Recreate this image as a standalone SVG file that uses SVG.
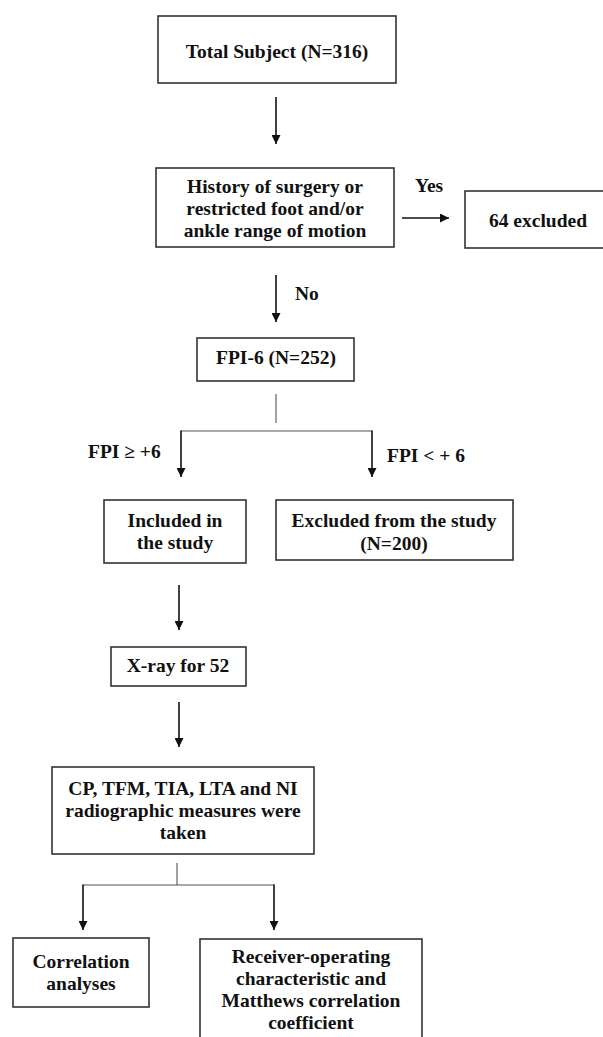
<svg xmlns="http://www.w3.org/2000/svg" width="603" height="1037" viewBox="0 0 603 1037">
<style>
.box{fill:#fff;stroke:#333;stroke-width:1.6}
.t{font-family:"Liberation Serif","Times New Roman",serif;font-weight:bold;font-size:19.5px;fill:#111;text-anchor:middle}
.l{font-family:"Liberation Serif","Times New Roman",serif;font-weight:bold;font-size:19.5px;fill:#111}
.ar{stroke:#111;stroke-width:1.6;fill:none;marker-end:url(#ah)}
.thin{stroke:#555;stroke-width:1.1;fill:none}
</style>
<defs>
<marker id="ah" markerUnits="userSpaceOnUse" markerWidth="9" markerHeight="9" refX="9" refY="4.5" orient="auto">
<path d="M0,0 L9,4.5 L0,9 z" fill="#111"/>
</marker>
</defs>
<rect width="603" height="1037" fill="#fff"/>
<g id="connectors">
<line class="ar" x1="276" y1="97" x2="276" y2="144"/>
<line class="ar" x1="402" y1="218" x2="449" y2="218"/>
<line class="ar" x1="276" y1="275" x2="276" y2="322"/>
<line class="thin" x1="276" y1="394" x2="276" y2="423"/>
<line class="thin" x1="181" y1="431" x2="372" y2="431"/>
<line class="ar" x1="181" y1="430.5" x2="181" y2="477"/>
<line class="ar" x1="372" y1="430.5" x2="372" y2="477"/>
<line class="ar" x1="179" y1="585" x2="179" y2="630"/>
<line class="ar" x1="179" y1="702" x2="179" y2="747"/>
<line class="thin" x1="177" y1="863" x2="177" y2="885"/>
<line class="thin" x1="83" y1="885" x2="274" y2="885"/>
<line class="ar" x1="83" y1="884.5" x2="83" y2="930"/>
<line class="ar" x1="274" y1="884.5" x2="274" y2="930"/>
<text class="l" x="415" y="192">Yes</text>
<text class="l" x="295" y="300">No</text>
<text class="l" x="88" y="458">FPI ≥ +6</text>
<text class="l" x="387" y="462">FPI &lt; + 6</text>
</g>
<g id="total">
<rect class="box" x="158" y="16" width="238" height="67"/>
<text class="t" x="277" y="58">Total Subject (N=316)</text>
</g>
<g id="history">
<rect class="box" x="156" y="168" width="238" height="79"/>
<text class="t" x="275" y="193">History of surgery or</text>
<text class="t" x="275" y="215">restricted foot and/or</text>
<text class="t" x="275" y="237">ankle range of motion</text>
</g>
<g id="excluded64">
<rect class="box" x="465" y="191" width="150" height="57"/>
<text class="t" x="538" y="227">64 excluded</text>
</g>
<g id="fpi">
<rect class="box" x="197" y="338" width="157" height="43"/>
<text class="t" x="276" y="364">FPI-6 (N=252)</text>
</g>
<g id="included">
<rect class="box" x="104" y="500" width="142" height="63"/>
<text class="t" x="175" y="527">Included in</text>
<text class="t" x="175" y="549">the study</text>
</g>
<g id="excluded200">
<rect class="box" x="276" y="500" width="237" height="60"/>
<text class="t" x="394" y="527">Excluded from the study</text>
<text class="t" x="394" y="550">(N=200)</text>
</g>
<g id="xray">
<rect class="box" x="111" y="647" width="135" height="39"/>
<text class="t" x="178" y="672">X-ray for 52</text>
</g>
<g id="measures">
<rect class="box" x="52" y="767" width="262" height="87"/>
<text class="t" x="183" y="795">CP, TFM, TIA, LTA and NI</text>
<text class="t" x="183" y="817">radiographic measures were</text>
<text class="t" x="183" y="839">taken</text>
</g>
<g id="correlation">
<rect class="box" x="13" y="938" width="136" height="69"/>
<text class="t" x="81" y="968">Correlation</text>
<text class="t" x="81" y="990">analyses</text>
</g>
<g id="roc">
<rect class="box" x="200" y="939" width="222" height="110"/>
<text class="t" x="311" y="963">Receiver-operating</text>
<text class="t" x="311" y="985">characteristic and</text>
<text class="t" x="311" y="1007">Matthews correlation</text>
<text class="t" x="311" y="1029">coefficient</text>
</g>
</svg>
